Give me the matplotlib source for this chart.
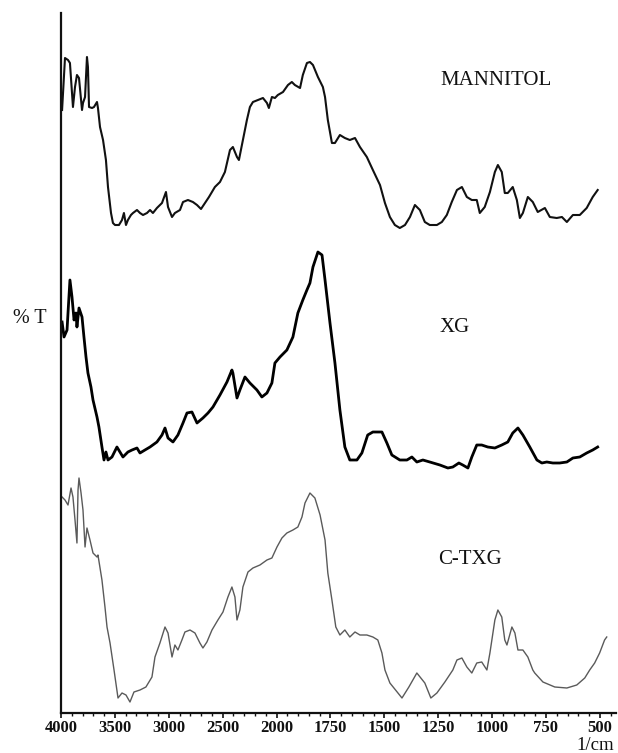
import numpy as np
import matplotlib
matplotlib.use("Agg")
import matplotlib.pyplot as plt
from matplotlib.ticker import FixedLocator, NullFormatter

# FTIR spectra (wavenumber in 1/cm, transmittance in stacked arbitrary units)
mannitol_wn = [3990, 3963, 3935, 3917, 3889, 3870, 3852, 3833, 3805, 3796, 3777, 3759, 3750,
               3740, 3712, 3694, 3666, 3657, 3638, 3610, 3583, 3564, 3536, 3518, 3499, 3462,
               3434, 3416, 3397, 3379, 3351, 3332, 3295, 3267, 3239, 3202, 3174, 3147, 3110,
               3063, 3026, 3007, 2970, 2943, 2896, 2868, 2822, 2776, 2738, 2701, 2664, 2627,
               2572, 2525, 2479, 2432, 2405, 2367, 2349, 2312, 2275, 2247, 2219, 2173, 2126,
               2089, 2071, 2043, 2015, 1994, 1970, 1947, 1929, 1915, 1891, 1878, 1859, 1845,
               1831, 1808, 1785, 1775, 1762, 1743, 1729, 1706, 1683, 1660, 1636, 1613, 1581,
               1553, 1520, 1497, 1474, 1451, 1428, 1404, 1381, 1358, 1335, 1312, 1289, 1256,
               1233, 1210, 1187, 1163, 1140, 1117, 1094, 1071, 1057, 1034, 1010, 987, 973, 955,
               941, 927, 904, 885, 871, 857, 834, 811, 788, 755, 732, 700, 676, 653, 625, 593,
               561, 533, 510]
mannitol_t = [603, 655, 653, 650, 606, 626, 638, 635, 603, 610, 616, 656, 646,
              606, 605, 606, 611, 605, 586, 573, 553, 526, 500, 490, 488, 488,
              493, 500, 488, 493, 498, 500, 503, 500, 498, 500, 503, 500, 505,
              510, 521, 506, 496, 500, 503, 511, 513, 511, 508, 504, 510, 516,
              526, 531, 541, 563, 566, 556, 553, 573, 593, 606, 611, 613, 615,
              610, 605, 616, 615, 618, 621, 628, 631, 628, 625, 638, 650, 651,
              648, 636, 626, 616, 593, 570, 570, 578, 575, 573, 575, 566, 556,
              543, 528, 510, 496, 488, 485, 488, 496, 508, 503, 491, 488, 488,
              491, 498, 511, 523, 526, 516, 513, 513, 500, 506, 521, 541, 548, 541,
              520, 520, 526, 513, 495, 500, 516, 511, 501, 505, 496, 495, 496, 491, 498, 498,
              505, 516, 523]

xg_wn = [3990, 3972, 3944, 3935, 3917, 3898, 3879, 3861, 3852, 3833, 3805, 3787, 3768,
         3750, 3722, 3703, 3666, 3648, 3620, 3601, 3583, 3564, 3527, 3481, 3453, 3425,
         3379, 3341, 3295, 3267, 3221, 3174, 3110, 3063, 3035, 3007, 2961, 2915, 2868,
         2831, 2785, 2738, 2683, 2636, 2590, 2525, 2460, 2414, 2405, 2367, 2340, 2293,
         2247, 2182, 2136, 2089, 2043, 2015, 1984, 1952, 1924, 1901, 1878, 1859, 1845,
         1831, 1808, 1789, 1775, 1752, 1729, 1706, 1683, 1660, 1627, 1604, 1577, 1553,
         1511, 1488, 1465, 1428, 1395, 1372, 1349, 1321, 1289, 1242, 1205, 1182, 1154,
         1136, 1112, 1094, 1071, 1048, 1020, 987, 955, 927, 904, 880, 857, 825, 792, 769,
         746, 718, 686, 653, 625, 593, 561, 533, 510]
xg_t = [391, 376, 383, 400, 433, 416, 393, 400, 386, 405, 396, 376, 356,
        340, 326, 313, 296, 286, 266, 253, 261, 253, 256, 266, 261, 256,
        261, 263, 265, 260, 263, 266, 271, 278, 285, 275, 271, 278, 290,
        300, 301, 290, 295, 300, 306, 318, 331, 343, 340, 315, 323, 336,
        330, 323, 316, 320, 330, 350, 356, 363, 376, 400, 413, 423, 430,
        446, 461, 458, 433, 390, 350, 303, 266, 253, 253, 260, 278, 281,
        281, 270, 258, 253, 253, 256, 251, 253, 251, 248, 245, 246, 250,
        248, 245, 256, 268, 268, 266, 265, 268, 271, 280, 285, 278, 266, 253, 250,
        251, 250, 250, 251, 255, 256, 260, 263, 266]

ctxg_wn = [3990, 3963, 3935, 3907, 3889, 3870, 3852, 3842, 3833, 3814, 3796, 3777, 3759,
           3731, 3703, 3666, 3657, 3620, 3592, 3573, 3545, 3508, 3471, 3434, 3397, 3360,
           3323, 3267, 3212, 3156, 3128, 3082, 3035, 3007, 2970, 2943, 2915, 2878, 2850,
           2803, 2757, 2711, 2683, 2646, 2599, 2544, 2497, 2451, 2414, 2386, 2367, 2340,
           2312, 2265, 2219, 2154, 2089, 2043, 1998, 1975, 1952, 1924, 1901, 1882, 1868,
           1845, 1822, 1798, 1775, 1762, 1743, 1725, 1706, 1683, 1660, 1636, 1613, 1581,
           1553, 1530, 1511, 1497, 1474, 1418, 1386, 1349, 1312, 1284, 1256, 1219, 1182,
           1163, 1140, 1117, 1094, 1071, 1048, 1024, 1010, 987, 973, 955, 941, 931, 908,
           894, 880, 857, 834, 811, 802, 764, 709, 653, 607, 570, 547, 524, 501, 478, 468]
ctxg_t = [216, 213, 208, 225, 216, 193, 170, 223, 235, 220, 203, 166, 185,
          173, 160, 156, 158, 133, 106, 86, 70, 43, 15, 20, 18, 11,
          21, 23, 26, 36, 56, 70, 86, 80, 56, 68, 63, 73, 81,
          83, 80, 70, 65, 71, 83, 93, 101, 116, 126, 116, 93, 103,
          126, 141, 145, 148, 153, 155, 166, 175, 180, 183, 186, 196, 210,
          220, 215, 198, 173, 140, 113, 86, 78, 83, 76, 81, 78, 78,
          76, 73, 60, 43, 30, 15, 26, 40, 30, 15, 20, 31, 43,
          53, 55, 46, 40, 50, 51, 43, 60, 93, 103, 96, 73, 68, 86,
          80, 63, 63, 56, 43, 40, 31, 26, 25, 28, 35, 43, 50, 60, 73, 76]

major_ticks = [4000, 3500, 3000, 2500, 2000, 1750, 1500, 1250, 1000, 750, 500]
sample_names = ["MANNITOL", "XG", "C-TXG"]


# Instrument-style wavenumber axis: 500 per division above 2000, 250 per division below.
# The forward map increases with wavenumber; the axis is then inverted so 4000 sits left.
def wn_forward(w):
    w = np.asarray(w, dtype=float)
    return -np.where(w >= 2000, (4000.0 - w) / 500.0, 4.0 + (2000.0 - w) / 250.0)


def wn_inverse(p):
    p = -np.asarray(p, dtype=float)
    return np.where(p <= 4, 4000.0 - 500.0 * p, 2000.0 - 250.0 * (p - 4.0))


serif = "Liberation Serif"

fig = plt.figure(figsize=(6.18, 7.53), dpi=100)
ax = fig.add_axes([61 / 618, 40 / 753, 555 / 618, 700 / 753])
ax.set_xscale("function", functions=(wn_forward, wn_inverse))

ax.plot(mannitol_wn, mannitol_t, color="#111111", lw=1.5, solid_joinstyle="round")
ax.plot(xg_wn, xg_t, color="#000000", lw=2.0, solid_joinstyle="round")
ax.plot(ctxg_wn, ctxg_t, color="#5a5a5a", lw=1.0, solid_joinstyle="round")

ax.set_xlim(425, 4000)
if not ax.xaxis_inverted():
    ax.invert_xaxis()
ax.set_ylim(0, 700)

ax.xaxis.set_major_locator(FixedLocator(major_ticks))
minor = list(range(3900, 2000, -100)) + list(range(1950, 425, -50))
minor = [m for m in minor if m not in major_ticks]
ax.xaxis.set_minor_locator(FixedLocator(minor))
ax.xaxis.set_minor_formatter(NullFormatter())
ax.set_xticklabels([str(t) for t in major_ticks], fontfamily=serif,
                   fontweight="bold", fontsize=12)
ax.tick_params(axis="x", which="major", direction="out", length=3.5, width=1.2,
               pad=1.2, colors="#111111")
ax.tick_params(axis="x", which="minor", direction="out", length=2, width=1.0,
               colors="#111111")
ax.set_yticks([])

for side in ("top", "right"):
    ax.spines[side].set_visible(False)
for side in ("left", "bottom"):
    ax.spines[side].set_linewidth(1.6)
    ax.spines[side].set_color("#111111")

# Sample labels beside each trace
ax.text(983, 633, sample_names[0], fontfamily=serif, fontsize=15,
        ha="center", va="center", color="#111111")
ax.text(1173, 386, sample_names[1], fontfamily=serif, fontsize=15,
        ha="center", va="center", color="#111111")
ax.text(1103, 153, sample_names[2], fontfamily=serif, fontsize=15,
        ha="center", va="center", color="#111111")

ax.text(-0.056, 0.563, "% T", transform=ax.transAxes, fontfamily=serif,
        fontsize=14.5, ha="center", va="center", color="#111111")
ax.text(0.962, -0.047, "1/cm", transform=ax.transAxes, fontfamily=serif,
        fontsize=13.5, ha="center", va="center", color="#111111")

fig.savefig("out.png", dpi=100)
